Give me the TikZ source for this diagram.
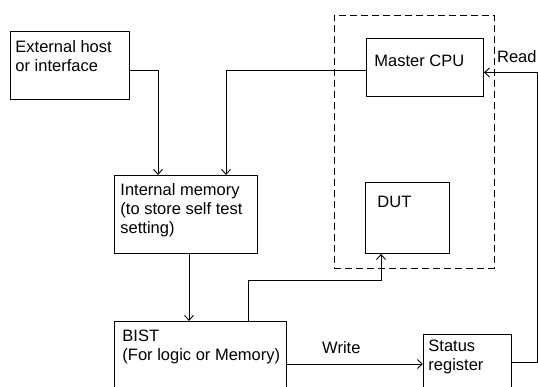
\documentclass[tikz,border=0pt]{standalone}
\usepackage{fontspec}
\setmainfont{Liberation Sans}
\usetikzlibrary{arrows.meta}

\begin{document}
\begin{tikzpicture}[x=1pt, y=-1pt, line width=0.9pt,
    >={Straight Barb[length=5pt,width=9pt]},
    block/.style={draw, rectangle, anchor=north west, inner sep=0pt},
    group/.style={block, dash pattern=on 7pt off 4pt},
    txt/.style={anchor=base west, align=left, inner sep=0pt,
        font=\fontsize{16.5}{19}\selectfont}]
    \useasboundingbox (0,0) rectangle (538,386);

    % Blocs
    \node[group, minimum width=160pt, minimum height=253pt] (board) at (334,15) {};
    \node[block, minimum width=119pt, minimum height=68pt] (ext) at (10,31) {};
    \node[block, minimum width=117pt, minimum height=58pt] (cpu) at (366,38) {};
    \node[block, minimum width=143pt, minimum height=78pt] (intmem) at (114,175) {};
    \node[block, minimum width=84pt, minimum height=71pt] (dut) at (365,182) {};
    \node[block, minimum width=172pt, minimum height=80pt] (bist) at (114,321) {};
    \node[block, minimum width=88pt, minimum height=70pt] (status) at (423,334) {};

    % Textes (ancre sur la derniere ligne)
    \node[txt] (ext-txt) at (15,71) {External host\\or interface};
    \node[txt] (cpu-txt) at (374,66) {Master CPU};
    \node[txt] (intmem-txt) at (120,233) {Internal memory\\(to store self test\\setting)};
    \node[txt] (dut-txt) at (377,207) {DUT};
    \node[txt] (bist-txt) at (122,360) {BIST\\(For logic or Memory)};
    \node[txt] (status-txt) at (428,370) {Status\\register};
    \node[txt, anchor=base east] (read) at (537,62) {Read};

    % Liaisons
    \draw[->] ([yshift=-5pt]ext.east) -| ([xshift=44pt]intmem.north west);
    \draw[->] ([yshift=-3pt]cpu.west) -| ([xshift=112pt]intmem.north west);
    \draw[->] ([xshift=75pt]intmem.south west) -- ([xshift=75pt]bist.north west);
    \draw[->] ([xshift=134pt]bist.north west) -- ++(0,-41) -| ([xshift=16pt]dut.south west);
    \draw[->] ([yshift=-43pt]bist.north east) -- ([yshift=-30pt]status.north west)
        node[txt, pos=0.4, anchor=base, yshift=11pt] (write) {Write};
    \draw[->] ([yshift=-28pt]status.north east) -- ++(26,0) |- ([yshift=-5pt]cpu.east);

\end{tikzpicture}
\end{document}
